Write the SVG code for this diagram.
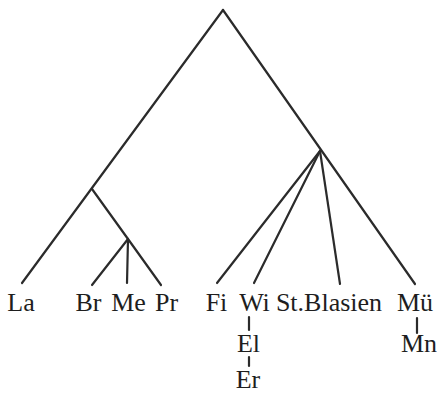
<svg xmlns="http://www.w3.org/2000/svg" width="437" height="394" viewBox="0 0 437 394">
<style>
.e{stroke:#2b2b2b;stroke-width:2.2;fill:none;stroke-linecap:round}
.t{font-family:"Liberation Serif","DejaVu Serif",serif;font-size:26px;fill:#1e1e1e;text-anchor:middle}
</style>
<rect width="437" height="394" fill="#fff"/>
<g id="connectors">
<line class="e" x1="223" y1="10" x2="22" y2="283"/>
<line class="e" x1="223" y1="10" x2="415" y2="284"/>
<line class="e" x1="92" y1="189" x2="128" y2="239"/>
<line class="e" x1="128" y1="239" x2="92" y2="285"/>
<line class="e" x1="128" y1="239" x2="127" y2="283"/>
<line class="e" x1="128" y1="239" x2="161" y2="285"/>
<line class="e" x1="320" y1="151" x2="217" y2="283"/>
<line class="e" x1="320" y1="151" x2="254" y2="283"/>
<line class="e" x1="320" y1="151" x2="340" y2="284"/>
<line class="e" x1="249" y1="317" x2="249" y2="330"/>
<line class="e" x1="249" y1="357" x2="249" y2="366"/>
<line class="e" x1="417" y1="318" x2="417" y2="333"/>
</g>
<g id="La"><text class="t" x="21" y="311">La</text></g>
<g id="Br"><text class="t" x="88.5" y="311">Br</text></g>
<g id="Me"><text class="t" x="128.5" y="311">Me</text></g>
<g id="Pr"><text class="t" x="166.5" y="311">Pr</text></g>
<g id="Fi"><text class="t" x="216.5" y="311">Fi</text></g>
<g id="Wi"><text class="t" x="254.5" y="311">Wi</text></g>
<g id="StBlasien"><text class="t" x="329" y="311">St.Blasien</text></g>
<g id="Mu"><text class="t" x="415" y="311">Mü</text></g>
<g id="El"><text class="t" x="248.5" y="352">El</text></g>
<g id="Er"><text class="t" x="248" y="388">Er</text></g>
<g id="Mn"><text class="t" x="419" y="352">Mn</text></g>
</svg>
